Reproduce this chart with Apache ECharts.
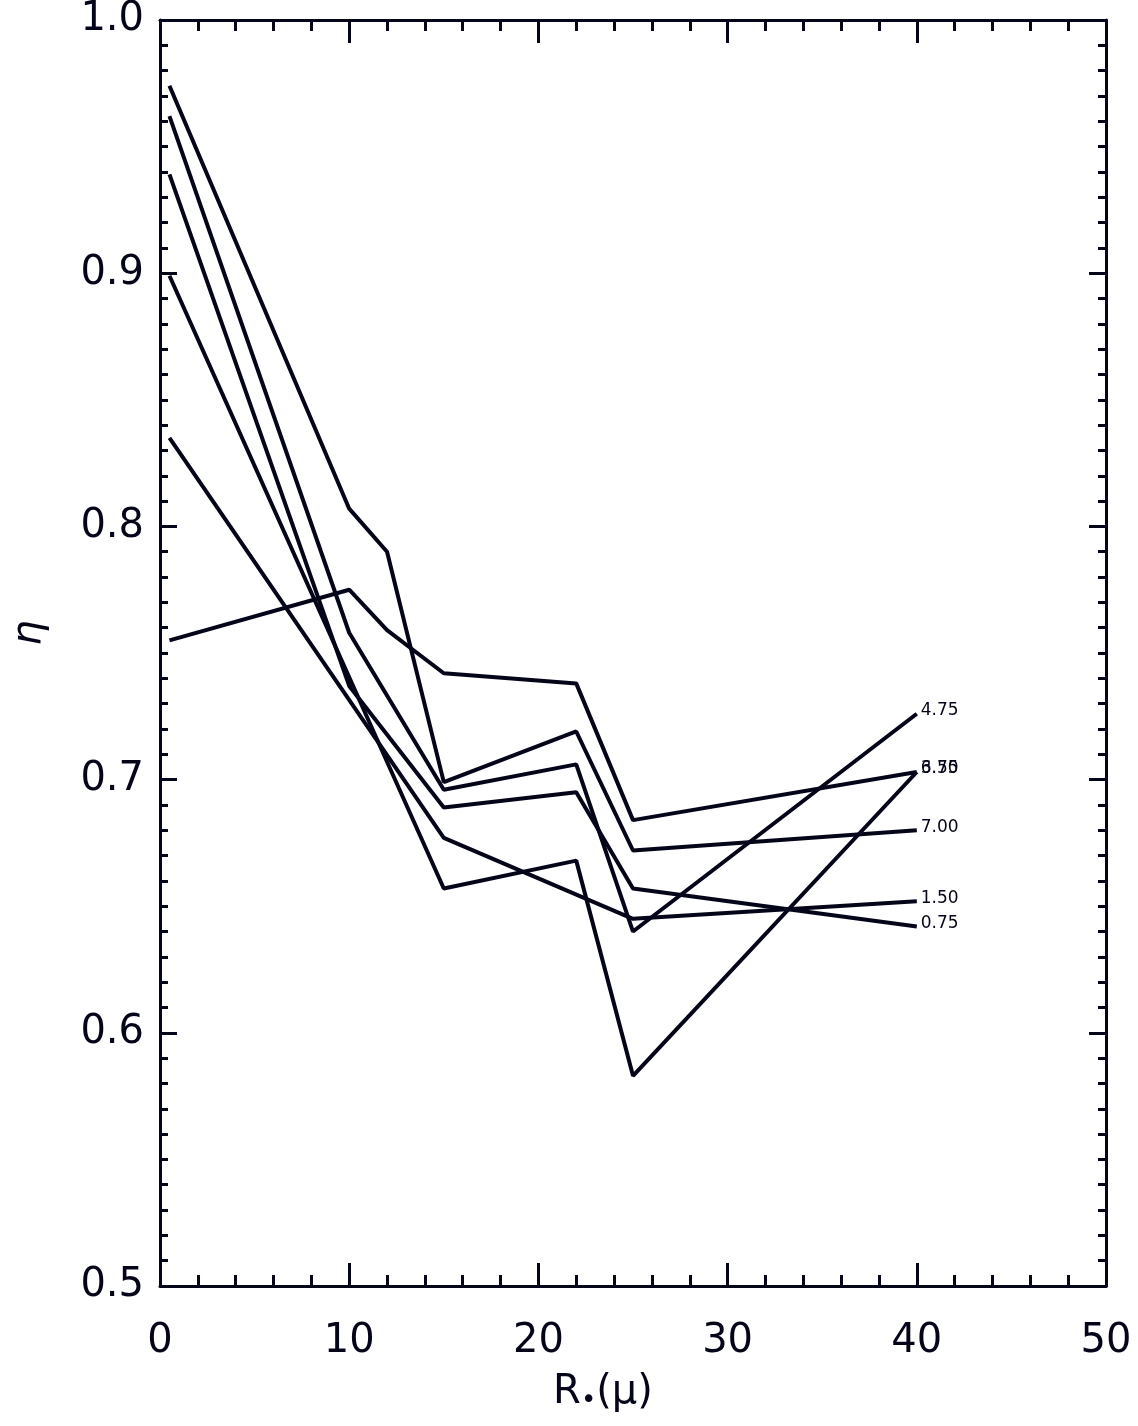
<!DOCTYPE html>
<html>
<head>
<meta charset="utf-8">
<script src="https://cdn.jsdelivr.net/npm/echarts@6/dist/echarts.min.js"></script>
<style>
  html, body { margin: 0; padding: 0; background: #fff; }
  #chart { width: 1138px; height: 1426px; }
</style>
</head>
<body>
<div id="chart"></div>
<script>
// R (micron) positions of the vertices
const radii = [0.5, 10, 12, 15, 22, 25, 40];

// eta for each curve, null where the curve has no vertex
const eta700 = [0.974, 0.807, 0.790, 0.699, 0.719, 0.672, 0.680];
const eta475 = [0.962, 0.758, null, 0.696, 0.706, 0.640, 0.726];
const eta075 = [0.939, 0.737, null, 0.689, 0.695, 0.657, 0.642];
const eta375 = [0.899, null, null, 0.657, 0.668, 0.583, 0.703];
const eta150 = [0.835, null, null, 0.677, null, 0.645, 0.652];
const eta650 = [0.755, 0.775, 0.759, 0.742, 0.738, 0.684, 0.703];

const curveNames = ['7.00', '4.75', '0.75', '3.75', '1.50', '6.50'];
const curveValues = [eta700, eta475, eta075, eta375, eta150, eta650];

const xTicks = [0, 10, 20, 30, 40, 50];
const yTicks = [0.5, 0.6, 0.7, 0.8, 0.9, 1.0];

const ink = '#05051a';
const labelFont = 'DejaVu Sans';

const chart = echarts.init(document.getElementById('chart'));

const toPairs = (vals) => radii
    .map((r, i) => [r, vals[i]])
    .filter(p => p[1] !== null);

const series = curveValues.map((vals, i) => ({
    name: curveNames[i],
    type: 'line',
    data: toPairs(vals),
    symbol: 'none',
    lineStyle: { color: ink, width: 4 },
    endLabel: {
        show: true,
        formatter: curveNames[i],
        distance: 4,
        offset: [0, -3],
        color: ink,
        fontFamily: labelFont,
        fontSize: 17
    }
}));

// shared look for the four box sides (onZero off so the right axis stays right)
const xBase = {
    type: 'value',
    min: xTicks[0],
    max: xTicks[xTicks.length - 1],
    interval: 10,
    axisLine: { show: true, onZero: false, lineStyle: { color: ink, width: 3 } },
    axisTick: { show: true, inside: true, length: 23, lineStyle: { color: ink, width: 3 } },
    minorTick: { show: true, splitNumber: 5, length: 11, lineStyle: { color: ink, width: 3 } },
    splitLine: { show: false }
};
const yBase = {
    type: 'value',
    min: yTicks[0],
    max: yTicks[yTicks.length - 1],
    interval: 0.1,
    axisLine: { show: true, onZero: false, lineStyle: { color: ink, width: 3 } },
    axisTick: { show: true, inside: true, length: 17, lineStyle: { color: ink, width: 3 } },
    minorTick: { show: true, splitNumber: 10, length: 8, lineStyle: { color: ink, width: 3 } },
    splitLine: { show: false }
};

chart.setOption({
    animation: false,
    backgroundColor: '#fff',
    grid: { left: 160, right: 32, top: 14, bottom: 140 },
    xAxis: [
        Object.assign({}, xBase, {
            position: 'bottom',
            axisLabel: {
                margin: 36,
                color: ink,
                fontFamily: labelFont,
                fontSize: 40,
                formatter: (v) => String(v)
            },
            name: '{r|R}{s|•}{r|(μ)}',
            nameLocation: 'middle',
            nameGap: 86,
            nameTextStyle: {
                padding: [0, 60, 0, 0],
                rich: {
                    r: { fontFamily: labelFont, fontSize: 40, color: ink },
                    s: { fontFamily: labelFont, fontSize: 26, color: ink, verticalAlign: 'bottom', padding: [16, 0, 0, 0] }
                }
            }
        }),
        Object.assign({}, xBase, { position: 'top', axisLabel: { show: false } })
    ],
    yAxis: [
        Object.assign({}, yBase, {
            position: 'left',
            axisLabel: {
                margin: 16,
                color: ink,
                fontFamily: labelFont,
                fontSize: 40,
                formatter: (v) => v.toFixed(1)
            },
            name: 'η',
            nameLocation: 'middle',
            nameRotate: 90,
            nameGap: 110,
            nameTextStyle: {
                fontFamily: labelFont, fontSize: 40, color: ink, fontStyle: 'italic',
                padding: [0, 0, 0, 40]
            }
        }),
        Object.assign({}, yBase, { position: 'right', axisLabel: { show: false } })
    ],
    series: series
});
</script>
</body>
</html>
